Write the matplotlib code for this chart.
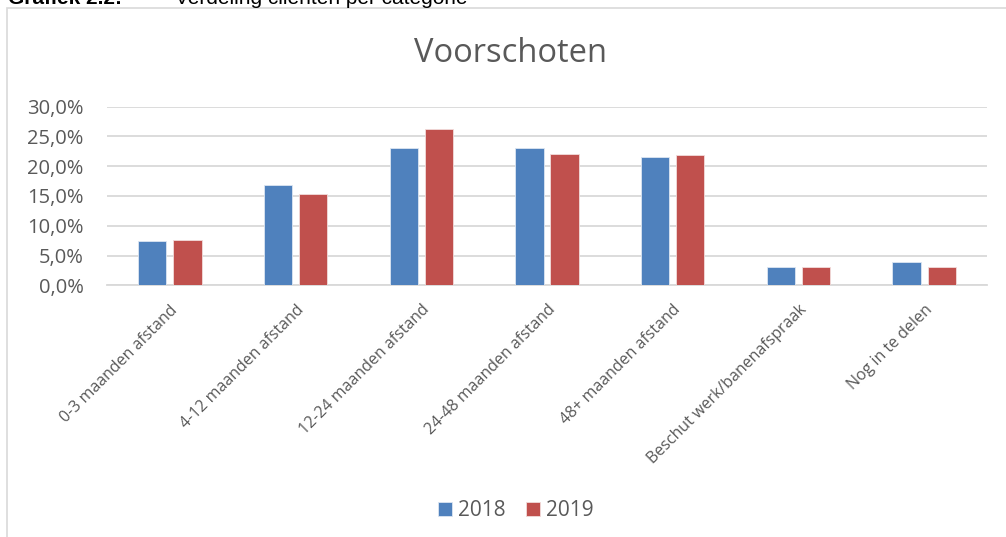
import numpy as np
import matplotlib
matplotlib.use('Agg')
import matplotlib.pyplot as plt
import matplotlib.ticker as mticker
from matplotlib.patches import Rectangle

plt.rcParams['font.family'] = ['Open Sans', 'DejaVu Sans']

categories = ['0-3 maanden afstand', '4-12 maanden afstand', '12-24 maanden afstand',
              '24-48 maanden afstand', '48+ maanden afstand', 'Beschut werk/banenafspraak',
              'Nog in te delen']
v2018 = [7.5, 16.8, 23.0, 23.0, 21.6, 3.1, 3.9]
v2019 = [7.6, 15.3, 26.2, 22.1, 21.9, 3.0, 3.0]
years = ['2018', '2019']
colors = ['#4F81BD', '#C0504D']
yticks = [0, 5, 10, 15, 20, 25, 30]

W, H = 1006, 537
fig = plt.figure(figsize=(W/100, H/100), dpi=100)

# kader van de grafiek (loopt door buiten beeld)
fig.patches.append(Rectangle((7/W, -0.1), 1.2, 1-8/H+0.1, transform=fig.transFigure,
                             fill=False, edgecolor='#D9D9D9', linewidth=1.2))

# afgesneden kop boven de grafiek
fig.text(8/W, 1-4/H, 'Grafiek 2.2:', fontsize=15, fontweight='bold', color='black',
         va='baseline', ha='left', family=['Liberation Sans'])
fig.text(175/W, 1-4/H, 'Verdeling cliënten per categorie', fontsize=15, color='black',
         va='baseline', ha='left', family=['Liberation Sans'])

ax = fig.add_axes([107/W, 1-285.3/H, 880/W, 178.6/H])
x = np.arange(len(categories))
bw = 0.225
gap = 0.055
ax.bar(x - (bw+gap)/2, v2018, bw, color=colors[0], edgecolor='#DCE6F2', linewidth=0.6,
       label=years[0], zorder=3)
ax.bar(x + (bw+gap)/2, v2019, bw, color=colors[1], edgecolor='#F2DCDB', linewidth=0.6,
       label=years[1], zorder=3)

ax.set_xlim(-0.5, len(categories)-0.5)
ax.set_ylim(0, 30)
ax.set_yticks(yticks)
ax.yaxis.set_major_formatter(mticker.FuncFormatter(lambda v, p: f'{v:.1f}%'.replace('.', ',')))
ax.grid(axis='y', color='#D9D9D9', linewidth=1.3, zorder=0)
for s in ['top', 'right', 'left']:
    ax.spines[s].set_visible(False)
ax.spines['bottom'].set_color('#D9D9D9')
ax.spines['bottom'].set_linewidth(1.3)
ax.tick_params(axis='y', length=0, labelsize=14.5, labelcolor='#595959', pad=17)
ax.tick_params(axis='x', length=0, labelsize=11.5, labelcolor='#595959', pad=12)
ax.set_xticks(x)
ax.set_xticklabels(categories, rotation=45, ha='right', va='top', rotation_mode='anchor')

fig.text(510/W, 1-53/H, 'Voorschoten', fontsize=23.5, color='#595959', ha='center', va='center')

h, l = ax.get_legend_handles_labels()
fig.legend(h, l, loc='center', bbox_to_anchor=(516/W, 1-511/H), ncol=2, frameon=False,
           fontsize=15, labelcolor='#595959', handlelength=0.65, handleheight=0.65,
           handletextpad=0.3, columnspacing=1.0)

fig.savefig('out.png', dpi=100)
